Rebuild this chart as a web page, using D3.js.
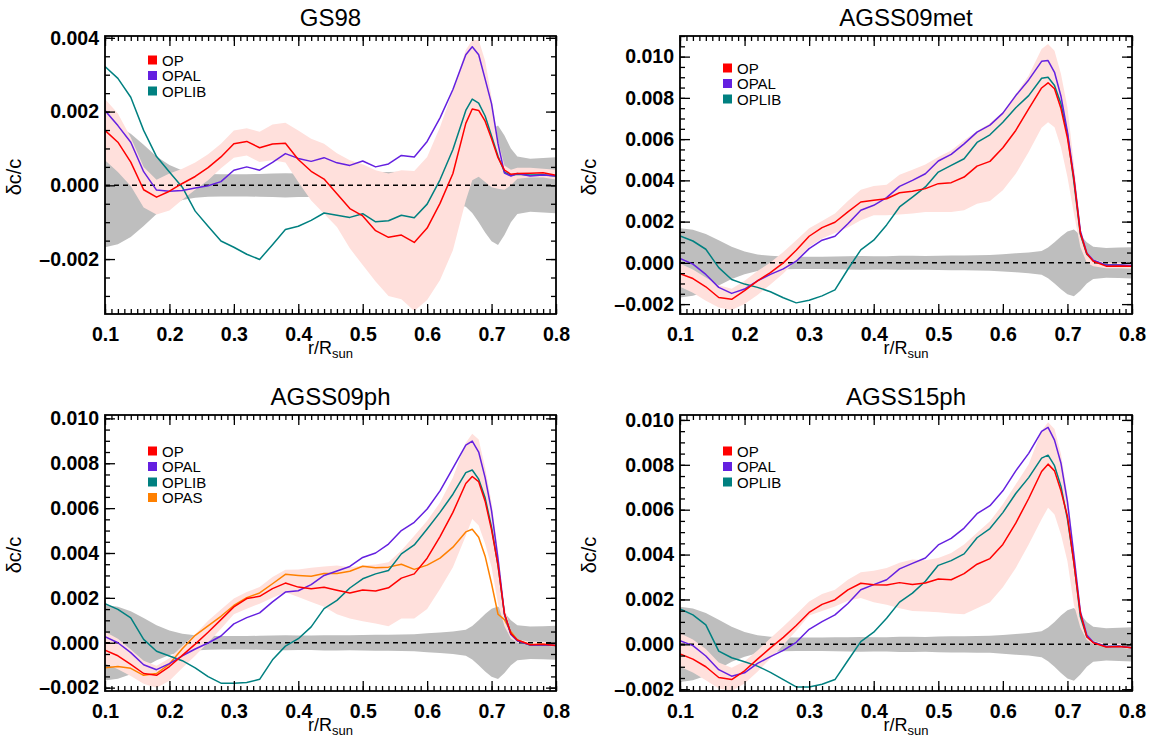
<!DOCTYPE html>
<html>
<head>
<meta charset="utf-8">
<script src="https://cdn.jsdelivr.net/npm/d3@7"></script>
<style>
  body { margin: 0; background: #fff; }
  svg text { font-family: "Liberation Sans", Arial, Helvetica, sans-serif; fill: #000; }
</style>
</head>
<body>
<svg id="chart" width="1149" height="747"></svg>
<script>
// Radius grid (r / R_sun) shared by every profile
const radius = [0.10,0.12,0.14,0.16,0.18,0.20,0.22,0.24,0.26,0.28,0.30,0.32,0.34,0.36,0.38,0.40,0.42,0.44,0.46,0.48,
                0.50,0.52,0.54,0.56,0.58,0.60,0.62,0.64,0.66,0.67,0.68,0.69,0.70,0.71,0.72,0.73,0.74,0.76,0.78,0.80];

// All values below are dc/c in units of 1e-3
// Helioseismic inversion uncertainty (half-width of the grey band)
const sigmaObs = [1.68,1.60,1.40,1.10,0.78,0.55,0.40,0.34,0.31,0.30,0.30,0.30,0.31,0.32,0.33,0.32,0.32,0.34,0.34,0.33,
                  0.35,0.36,0.36,0.37,0.38,0.42,0.46,0.50,0.58,0.75,1.00,1.28,1.52,1.62,1.35,1.00,0.78,0.72,0.74,0.76];

// GS98
const gs98Op    = [1.49,1.17,0.63,-0.12,-0.32,-0.16,0.05,0.24,0.48,0.77,1.13,1.19,1.02,1.12,1.14,0.70,0.38,0.17,-0.23,-0.63,
                   -0.83,-1.23,-1.41,-1.35,-1.55,-1.16,-0.49,0.32,1.68,2.07,2.03,1.74,1.26,0.75,0.41,0.30,0.32,0.33,0.34,0.27];
const gs98Opal  = [2.03,1.62,1.17,0.37,-0.13,-0.16,-0.14,-0.07,-0.01,0.10,0.41,0.50,0.41,0.62,0.86,0.73,0.65,0.75,0.61,0.54,
                   0.66,0.50,0.58,0.81,0.77,1.19,1.83,2.60,3.54,3.76,3.54,2.88,2.21,1.13,0.33,0.25,0.32,0.25,0.28,0.25];
const gs98Oplib = [3.22,2.90,2.39,1.49,0.78,0.36,-0.05,-0.70,-1.11,-1.51,-1.68,-1.87,-2.01,-1.61,-1.20,-1.11,-0.95,-0.75,-0.81,-0.87,
                   -0.77,-0.99,-0.96,-0.81,-0.88,-0.51,0.15,0.97,2.03,2.34,2.23,1.88,1.34,0.79,0.36,0.27,0.30,0.28,0.29,0.25];
const gs98BandLo = [0.68,0.36,-0.02,-0.60,-0.79,-0.68,-0.39,-0.12,0.14,0.46,0.75,0.81,0.63,0.68,0.62,0.09,-0.41,-0.77,-1.13,-1.71,
                    -2.16,-2.61,-3.00,-3.09,-3.41,-3.11,-2.57,-1.76,-0.41,0.14,0.23,0.09,-0.05,-0.09,-0.12,0.00,0.18,0.21,0.21,0.16];
const gs98BandHi = [2.34,1.95,1.30,0.50,0.15,0.32,0.45,0.62,0.84,1.13,1.49,1.55,1.45,1.65,1.70,1.49,1.26,1.13,0.87,0.68,
                    0.57,0.41,0.32,0.41,0.39,0.77,1.58,2.57,3.67,3.94,3.94,3.38,2.39,1.22,0.54,0.42,0.48,0.48,0.45,0.42];

// AGSS09met
const met09Op    = [-0.52,-0.76,-1.16,-1.68,-1.77,-1.35,-0.87,-0.47,0.00,0.61,1.29,1.71,1.97,2.47,2.95,3.03,3.11,3.40,3.47,3.60,
                    3.84,3.89,4.16,4.69,4.92,5.58,6.42,7.47,8.48,8.73,8.44,7.48,6.06,4.08,1.45,0.45,0.08,-0.16,-0.15,-0.16];
const met09Opal  = [0.21,-0.06,-0.56,-1.19,-1.48,-1.27,-0.87,-0.56,-0.29,0.08,0.69,1.10,1.29,1.90,2.55,2.79,3.16,3.71,4.00,4.32,
                    4.94,5.26,5.77,6.34,6.68,7.26,8.11,8.87,9.77,9.81,9.24,8.08,6.35,4.16,1.55,0.48,0.13,-0.11,-0.10,-0.13];
const met09Oplib = [1.31,1.06,0.66,-0.23,-0.81,-1.03,-1.19,-1.40,-1.69,-1.94,-1.81,-1.60,-1.31,-0.31,0.63,1.10,1.84,2.71,3.19,3.68,
                    4.40,4.73,5.05,5.84,6.21,6.82,7.52,8.11,8.95,9.00,8.60,7.71,6.26,3.92,1.39,0.42,0.10,-0.11,-0.10,-0.16];
const met09BandLo = [-1.16,-1.45,-1.84,-2.16,-2.29,-2.00,-1.56,-1.05,-0.52,0.13,0.77,1.18,1.45,1.71,2.06,2.31,2.31,2.35,2.39,2.47,
                     2.47,2.47,2.55,2.87,3.00,3.52,4.32,5.37,6.55,6.82,6.58,5.61,4.16,2.39,0.77,0.00,-0.16,-0.26,-0.26,-0.29];
const met09BandHi = [-0.03,-0.32,-0.71,-1.08,-1.26,-0.87,-0.39,0.02,0.53,1.10,1.68,2.03,2.39,3.00,3.55,3.73,3.79,4.27,4.52,4.77,
                     5.13,5.45,5.94,6.39,6.77,7.31,8.19,9.08,10.37,10.61,10.29,9.16,7.55,4.81,1.74,0.53,0.16,0.00,0.00,-0.03];

// AGSS09ph
const ph09Op    = [-0.33,-0.58,-0.96,-1.37,-1.45,-1.06,-0.56,-0.06,0.47,1.03,1.60,1.97,2.07,2.41,2.66,2.48,2.41,2.47,2.34,2.22,
                   2.35,2.31,2.45,2.88,3.07,3.77,4.73,5.81,7.10,7.41,7.18,6.31,5.03,3.46,1.30,0.41,0.12,-0.09,-0.07,-0.12];
const ph09Opal  = [0.27,0.00,-0.44,-0.98,-1.20,-0.93,-0.58,-0.28,-0.01,0.30,0.84,1.12,1.33,1.82,2.26,2.32,2.59,3.00,3.20,3.40,
                   3.80,4.00,4.40,5.00,5.37,5.96,6.77,7.78,8.81,8.99,8.50,7.36,5.88,3.74,1.27,0.38,0.09,-0.10,-0.09,-0.12];
const ph09Oplib = [1.74,1.49,1.11,0.15,-0.38,-0.59,-0.80,-1.12,-1.51,-1.80,-1.80,-1.77,-1.63,-0.76,-0.15,0.18,0.71,1.52,1.89,2.44,
                   2.85,3.07,3.22,3.96,4.36,5.07,5.81,6.62,7.58,7.70,7.29,6.46,5.14,3.44,1.27,0.38,0.09,-0.10,-0.09,-0.12];
const ph09Opas  = [-1.11,-1.06,-1.14,-1.45,-1.37,-0.95,-0.27,0.33,0.75,1.18,1.66,2.01,2.22,2.63,3.05,3.00,2.96,3.09,3.09,3.19,
                   3.41,3.34,3.37,3.50,3.27,3.46,3.77,4.26,4.94,5.06,4.70,3.86,2.63,1.27,1.03,0.49,0.12,-0.09,-0.07,-0.12];
const ph09BandLo = [-0.92,-1.18,-1.48,-1.83,-2.00,-1.69,-1.12,-0.58,0.01,0.62,1.27,1.52,1.74,2.01,2.25,2.04,1.82,1.60,1.27,1.08,
                    0.96,0.86,0.74,1.08,1.08,1.50,2.40,3.37,4.77,5.51,5.22,4.41,3.37,1.74,0.74,0.19,0.00,-0.10,-0.12,-0.18];
const ph09BandHi = [0.49,0.18,-0.30,-0.80,-1.03,-0.69,-0.15,0.38,0.98,1.48,1.97,2.26,2.48,2.93,3.25,3.27,3.34,3.40,3.44,3.37,
                    3.44,3.49,3.59,4.11,4.77,5.44,6.25,7.36,8.91,9.31,9.06,7.80,6.25,4.11,1.60,0.49,0.15,0.04,0.04,0.01];

// AGSS15ph
const ph15Op    = [-0.43,-0.66,-1.00,-1.48,-1.57,-1.18,-0.66,-0.16,0.31,0.84,1.42,1.78,1.99,2.43,2.72,2.66,2.64,2.75,2.67,2.73,
                   2.91,2.88,3.15,3.57,3.82,4.45,5.40,6.50,7.70,8.03,7.73,6.84,5.70,3.63,1.39,0.34,0.07,-0.12,-0.10,-0.15];
const ph15Opal  = [0.16,-0.06,-0.52,-1.13,-1.42,-1.27,-0.85,-0.55,-0.27,0.09,0.67,1.01,1.31,1.82,2.43,2.66,2.88,3.36,3.61,3.85,
                   4.43,4.72,5.18,5.82,6.18,6.84,7.73,8.51,9.49,9.67,9.10,8.07,6.36,3.97,1.46,0.42,0.09,-0.10,-0.09,-0.15];
const ph15Oplib = [1.58,1.31,0.87,-0.30,-0.60,-0.78,-0.97,-1.25,-1.57,-1.90,-1.90,-1.78,-1.57,-0.72,0.12,0.54,1.16,1.88,2.28,2.81,
                   3.52,3.73,4.03,4.75,5.16,5.87,6.72,7.43,8.30,8.43,7.96,7.04,5.58,3.66,1.24,0.34,0.09,-0.10,-0.09,-0.15];
const ph15BandLo = [-1.00,-1.25,-1.60,-1.97,-2.09,-1.75,-1.22,-0.63,-0.03,0.60,1.28,1.49,1.69,1.94,2.06,1.88,1.76,1.61,1.49,1.46,
                    1.43,1.37,1.34,1.61,1.88,2.54,3.40,4.45,5.57,6.09,5.79,4.90,3.70,1.76,0.75,0.19,0.00,-0.12,-0.15,-0.21];
const ph15BandHi = [0.49,0.22,-0.21,-0.81,-1.04,-0.75,-0.27,0.27,0.79,1.34,1.91,2.24,2.43,2.88,3.21,3.28,3.40,3.63,3.78,3.75,
                    3.85,4.07,4.45,4.97,5.49,6.24,7.13,8.03,9.52,9.90,9.60,8.48,6.69,4.30,1.69,0.45,0.15,0.03,0.03,0.00];

// Axis ticks
const xMajorTicks = [0.1,0.2,0.3,0.4,0.5,0.6,0.7,0.8];
const yMajorTicksGS98 = [-2,0,2,4];
const yMajorTicksAGSS = [-2,0,2,4,6,8,10];

const panelTitles = ["GS98","AGSS09met","AGSS09ph","AGSS15ph"];
const seriesColors = { OP: "#ff0000", OPAL: "#6420e0", OPLIB: "#008080", OPAS: "#ff8000" };

const panels = [
  { title: panelTitles[0], yDomain: [-3.49, 4.05], yMajor: yMajorTicksGS98, band: [gs98BandLo, gs98BandHi],
    series: [["OP", gs98Op], ["OPAL", gs98Opal], ["OPLIB", gs98Oplib]] },
  { title: panelTitles[1], yDomain: [-2.48, 11.0], yMajor: yMajorTicksAGSS, band: [met09BandLo, met09BandHi],
    series: [["OP", met09Op], ["OPAL", met09Opal], ["OPLIB", met09Oplib]] },
  { title: panelTitles[2], yDomain: [-2.15, 10.15], yMajor: yMajorTicksAGSS, band: [ph09BandLo, ph09BandHi],
    series: [["OP", ph09Op], ["OPAL", ph09Opal], ["OPLIB", ph09Oplib], ["OPAS", ph09Opas]] },
  { title: panelTitles[3], yDomain: [-2.08, 10.22], yMajor: yMajorTicksAGSS, band: [ph15BandLo, ph15BandHi],
    series: [["OP", ph15Op], ["OPAL", ph15Opal], ["OPLIB", ph15Oplib]] }
];

// Frame of each panel on the page
const frames = [
  { x0: 105, x1: 556,  y0: 36,  y1: 314, legendTop: 24 },
  { x0: 680, x1: 1132, y0: 36,  y1: 314, legendTop: 32 },
  { x0: 105, x1: 556,  y0: 415, y1: 691, legendTop: 36 },
  { x0: 680, x1: 1132, y0: 415, y1: 691, legendTop: 36 }
];

const svg = d3.select("#chart");
const fmtY = v => { const s = Math.abs(v / 1000).toFixed(3); return v < 0 ? "\u2013" + s : s; };
const fmtX = v => v.toFixed(1);
const MAJOR = 10, MINOR = 5;

function styleAxis(g, fontSize) {
  g.select(".domain").remove();
  g.selectAll(".tick line").attr("stroke", "#000").attr("stroke-width", 1.3);
  g.selectAll(".tick text")
    .attr("font-family", "'Liberation Sans', Arial, Helvetica, sans-serif")
    .attr("font-weight", "bold")
    .attr("font-size", fontSize)
    .attr("fill", "#000");
}

panels.forEach((p, i) => {
  const f = frames[i];
  const x = d3.scaleLinear().domain([0.1, 0.8]).range([f.x0, f.x1]);
  const y = d3.scaleLinear().domain(p.yDomain).range([f.y1, f.y0]);
  const g = svg.append("g");

  const clipId = "plot-clip-" + i;
  svg.append("clipPath").attr("id", clipId)
    .append("rect").attr("x", f.x0).attr("y", f.y0)
    .attr("width", f.x1 - f.x0).attr("height", f.y1 - f.y0);
  const plot = g.append("g").attr("clip-path", `url(#${clipId})`);

  const area = d3.area().x(d => x(d.r)).y0(d => y(d.lo)).y1(d => y(d.hi));

  // grey band: inversion uncertainty around zero
  plot.append("path")
    .datum(radius.map((r, k) => ({ r, lo: -sigmaObs[k], hi: sigmaObs[k] })))
    .attr("d", area).attr("fill", "#bebebe");

  // pink band: spread of the OP model
  plot.append("path")
    .datum(radius.map((r, k) => ({ r, lo: p.band[0][k], hi: p.band[1][k] })))
    .attr("d", area).attr("fill", "#ffe0dc");

  // zero reference
  plot.append("line")
    .attr("x1", f.x0).attr("x2", f.x1).attr("y1", y(0)).attr("y2", y(0))
    .attr("stroke", "#000").attr("stroke-width", 1.5).attr("stroke-dasharray", "5,4");

  // profiles (OP drawn last, on top)
  const line = d3.line().x(d => x(d.r)).y(d => y(d.v));
  const drawOrder = ["OPAS", "OPLIB", "OPAL", "OP"];
  drawOrder.forEach(name => {
    const s = p.series.find(e => e[0] === name);
    if (!s) return;
    plot.append("path")
      .datum(radius.map((r, k) => ({ r, v: s[1][k] })))
      .attr("d", line).attr("fill", "none")
      .attr("stroke", seriesColors[name]).attr("stroke-width", 1.5)
      .attr("stroke-linejoin", "round");
  });

  // minor ticks
  const xMinor = d3.range(10, 81).map(v => v / 100);
  const yMinor = d3.range(Math.ceil(p.yDomain[0] * 2), Math.floor(p.yDomain[1] * 2) + 1).map(v => v / 2);

  const axes = [
    [d3.axisBottom(x), f.y1, "x"], [d3.axisTop(x), f.y0, "x"],
    [d3.axisLeft(y), f.x0, "y"], [d3.axisRight(y), f.x1, "y"]
  ];
  axes.forEach(([maker, pos, dim]) => {
    const tr = dim === "x" ? `translate(0,${pos})` : `translate(${pos},0)`;
    const minor = g.append("g").attr("transform", tr)
      .call(maker.tickValues(dim === "x" ? xMinor : yMinor).tickSize(-MINOR).tickSizeOuter(0).tickFormat(""));
    styleAxis(minor, 0);
  });

  // major ticks with labels on bottom and left
  const bottom = g.append("g").attr("transform", `translate(0,${f.y1})`)
    .call(d3.axisBottom(x).tickValues(xMajorTicks).tickSize(-MAJOR).tickSizeOuter(0).tickPadding(13).tickFormat(fmtX));
  styleAxis(bottom, 19.5);
  const top = g.append("g").attr("transform", `translate(0,${f.y0})`)
    .call(d3.axisTop(x).tickValues(xMajorTicks).tickSize(-MAJOR).tickSizeOuter(0).tickFormat(""));
  styleAxis(top, 0);
  const left = g.append("g").attr("transform", `translate(${f.x0},0)`)
    .call(d3.axisLeft(y).tickValues(p.yMajor).tickSize(-MAJOR).tickSizeOuter(0).tickPadding(6).tickFormat(fmtY));
  styleAxis(left, 19.5);
  const right = g.append("g").attr("transform", `translate(${f.x1},0)`)
    .call(d3.axisRight(y).tickValues(p.yMajor).tickSize(-MAJOR).tickSizeOuter(0).tickFormat(""));
  styleAxis(right, 0);

  // frame
  g.append("rect").attr("x", f.x0).attr("y", f.y0)
    .attr("width", f.x1 - f.x0).attr("height", f.y1 - f.y0)
    .attr("fill", "none").attr("stroke", "#000").attr("stroke-width", 1.8);

  // title
  g.append("text").attr("x", (f.x0 + f.x1) / 2).attr("y", f.y0 - 10)
    .attr("text-anchor", "middle").attr("font-size", 24).text(p.title);

  // x-axis title
  const xt = g.append("text").attr("x", (f.x0 + f.x1) / 2).attr("y", f.y1 + 40)
    .attr("text-anchor", "middle").attr("font-size", 18);
  xt.append("tspan").text("r/R");
  xt.append("tspan").attr("font-size", 13).attr("dy", 4).text("sun");

  // y-axis title
  g.append("text")
    .attr("transform", `translate(${f.x0 - 84},${(f.y0 + f.y1) / 2 + 2}) rotate(-90)`)
    .attr("text-anchor", "middle").attr("font-size", 20).text("\u03b4c/c");

  // legend
  const leg = g.append("g").attr("transform", `translate(${f.x0 + 43},${f.y0 + f.legendTop})`);
  p.series.forEach(([name], k) => {
    const row = leg.append("g").attr("transform", `translate(0,${k * 15.5})`);
    row.append("rect").attr("x", 0).attr("y", -4.5).attr("width", 9).attr("height", 9)
      .attr("fill", seriesColors[name]);
    row.append("text").attr("x", 14).attr("y", 5.5).attr("font-size", 15).text(name);
  });
});
</script>
</body>
</html>
